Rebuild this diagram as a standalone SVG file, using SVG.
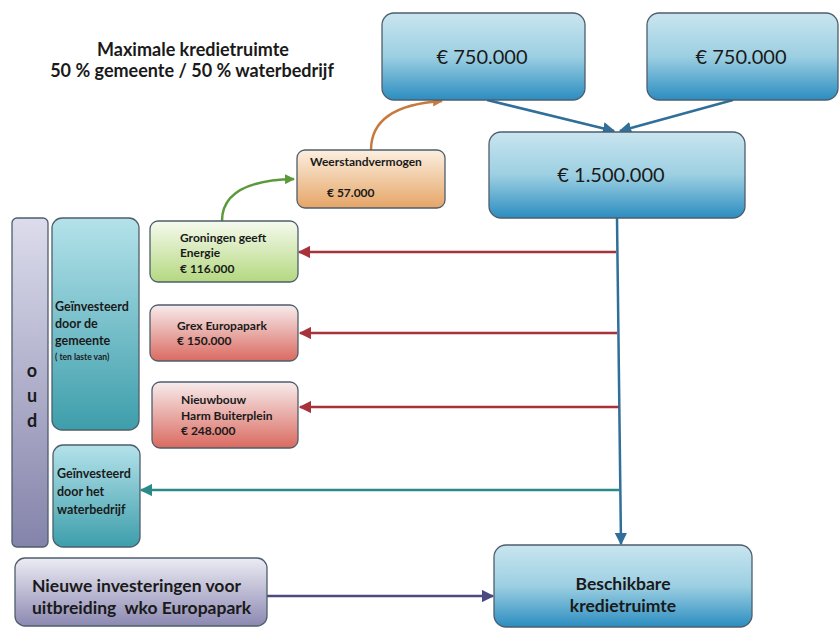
<svg xmlns="http://www.w3.org/2000/svg" width="840" height="628" viewBox="0 0 840 628">
<defs>
<linearGradient id="gBlue" x1="0" y1="0" x2="0" y2="1"><stop offset="0" stop-color="#c9e5ef"/><stop offset="0.5" stop-color="#9ccfe2"/><stop offset="1" stop-color="#2b8dc0"/></linearGradient>
<linearGradient id="gGreen" x1="0" y1="0" x2="0" y2="1"><stop offset="0" stop-color="#f6faee"/><stop offset="1" stop-color="#b4d880"/></linearGradient>
<linearGradient id="gRed" x1="0" y1="0" x2="0" y2="1"><stop offset="0" stop-color="#f7ecec"/><stop offset="1" stop-color="#da6a60"/></linearGradient>
<linearGradient id="gOrange" x1="0" y1="0" x2="0" y2="1"><stop offset="0" stop-color="#fcefe0"/><stop offset="1" stop-color="#e5a566"/></linearGradient>
<linearGradient id="gTeal" x1="0" y1="0" x2="0" y2="1"><stop offset="0" stop-color="#b4e2ea"/><stop offset="1" stop-color="#3d9eab"/></linearGradient>
<linearGradient id="gLav" x1="0" y1="0" x2="0" y2="1"><stop offset="0" stop-color="#dcdcec"/><stop offset="1" stop-color="#8483aa"/></linearGradient>
<linearGradient id="gNew" x1="0" y1="0" x2="0" y2="1"><stop offset="0" stop-color="#ececf4"/><stop offset="1" stop-color="#8c89b2"/></linearGradient>
<marker id="aBlue" viewBox="0 0 10 10" refX="9" refY="5" markerWidth="5" markerHeight="5" orient="auto"><path d="M0,0 L10,5 L0,10 z" fill="#2f6f9a"/></marker>
<marker id="aRed" viewBox="0 0 10 10" refX="9" refY="5" markerWidth="5" markerHeight="5" orient="auto"><path d="M0,0 L10,5 L0,10 z" fill="#a8323a"/></marker>
<marker id="aTeal" viewBox="0 0 10 10" refX="9" refY="5" markerWidth="5" markerHeight="5" orient="auto"><path d="M0,0 L10,5 L0,10 z" fill="#2a8a8a"/></marker>
<marker id="aGreen" viewBox="0 0 10 10" refX="9" refY="5" markerWidth="4" markerHeight="4" orient="auto"><path d="M0,0 L10,5 L0,10 z" fill="#5a9a3a"/></marker>
<marker id="aOrange" viewBox="0 0 10 10" refX="9" refY="5" markerWidth="4" markerHeight="4" orient="auto"><path d="M0,0 L10,5 L0,10 z" fill="#c87a3e"/></marker>
<marker id="aPurple" viewBox="0 0 10 10" refX="9" refY="5" markerWidth="5" markerHeight="5" orient="auto"><path d="M0,0 L10,5 L0,10 z" fill="#4a4a80"/></marker>
</defs>
<style>
text{font-family:Lato,"Open Sans","Liberation Sans",sans-serif;fill:#1a1a1a;font-weight:bold}
.box{stroke:#4e5e6c;stroke-width:1.3}
.big{font-size:20px;font-weight:normal}
.sm{font-size:12px}
.tl{font-size:12.5px}
.ln{fill:none;stroke-width:2.5}
</style>
<g id="title">
<text x="193" y="56" font-size="18" text-anchor="middle">Maximale kredietruimte</text>
<text x="192" y="77" font-size="18" text-anchor="middle">50 % gemeente / 50 % waterbedrijf</text>
</g>
<g id="connectors">
<path class="ln" d="M487,100 L614,131" stroke="#2f6f9a" stroke-width="1.5" marker-end="url(#aBlue)"/>
<path class="ln" d="M733,100 L620,131" stroke="#2f6f9a" stroke-width="1.5" marker-end="url(#aBlue)"/>
<path class="ln" d="M617,218 L621,544" stroke="#2f6f9a" stroke-width="2" marker-end="url(#aBlue)"/>
<path class="ln" d="M616,252 L299,252" stroke="#a8323a" marker-end="url(#aRed)"/>
<path class="ln" d="M617,333 L300,333" stroke="#a8323a" marker-end="url(#aRed)"/>
<path class="ln" d="M619,407 L300,407" stroke="#a8323a" marker-end="url(#aRed)"/>
<path class="ln" d="M620,490 L141,490" stroke="#2a8a8a" marker-end="url(#aTeal)"/>
<path class="ln" d="M267,596 L493,596" stroke="#4a4a80" marker-end="url(#aPurple)"/>
<path class="ln" d="M222,221 C222,195 245,180 294,179" stroke="#5a9a3a" stroke-width="3" marker-end="url(#aGreen)"/>
<path class="ln" d="M371,150 C371,120 395,104 442,101" stroke="#c87a3e" stroke-width="3" marker-end="url(#aOrange)"/>
</g>
<g id="n750a"><rect class="box" x="382" y="13" width="203" height="87" rx="12" fill="url(#gBlue)"/><text class="big" x="482" y="64" text-anchor="middle">€ 750.000</text></g>
<g id="n750b"><rect class="box" x="647" y="13" width="191" height="87" rx="12" fill="url(#gBlue)"/><text class="big" x="741" y="64" text-anchor="middle">€ 750.000</text></g>
<g id="n1500"><rect class="box" x="489" y="132" width="256" height="86" rx="12" fill="url(#gBlue)"/><text class="big" x="611" y="182" text-anchor="middle">€ 1.500.000</text></g>
<g id="weerstand"><rect class="box" x="297" y="150" width="148" height="58" rx="8" fill="url(#gOrange)"/><text class="sm" x="310" y="166">Weerstandvermogen</text><text class="sm" x="327" y="197">€ 57.000</text></g>
<g id="groningen"><rect class="box" x="150" y="221" width="148" height="61" rx="8" fill="url(#gGreen)"/><text class="sm" x="180" y="242">Groningen geeft</text><text class="sm" x="180" y="257">Energie</text><text class="sm" x="180" y="273">€ 116.000</text></g>
<g id="grex"><rect class="box" x="150" y="305" width="148" height="56" rx="8" fill="url(#gRed)"/><text class="sm" x="177" y="330">Grex Europapark</text><text class="sm" x="177" y="345">€ 150.000</text></g>
<g id="nieuwbouw"><rect class="box" x="152" y="382" width="146" height="66" rx="8" fill="url(#gRed)"/><text class="sm" x="181" y="404">Nieuwbouw</text><text class="sm" x="181" y="420">Harm Buiterplein</text><text class="sm" x="181" y="435">€ 248.000</text></g>
<g id="oud"><rect class="box" x="12" y="218" width="36" height="329" rx="5" fill="url(#gLav)"/><text x="32" y="377" font-size="18" text-anchor="middle" fill="#333">o</text><text x="32" y="402" font-size="18" text-anchor="middle" fill="#333">u</text><text x="32" y="427" font-size="18" text-anchor="middle" fill="#333">d</text></g>
<g id="gemeente"><rect class="box" x="52" y="218" width="87" height="212" rx="10" fill="url(#gTeal)"/><text class="tl" x="55" y="311">Geïnvesteerd</text><text class="tl" x="55" y="328">door de</text><text class="tl" x="55" y="345">gemeente</text><text x="55" y="360" font-size="8.5">( ten laste van)</text></g>
<g id="waterbedrijf"><rect class="box" x="53" y="445" width="87" height="102" rx="10" fill="url(#gTeal)"/><text class="tl" x="57" y="478">Geïnvesteerd</text><text class="tl" x="57" y="496">door het</text><text class="tl" x="57" y="514">waterbedrijf</text></g>
<g id="nieuwe"><rect class="box" x="15" y="558" width="252" height="68" rx="10" fill="url(#gNew)"/><text x="32" y="592" font-size="17.5" font-weight="normal">Nieuwe investeringen voor</text><text x="32" y="614" font-size="17.5" font-weight="normal" style="white-space:pre">uitbreiding  wko Europapark</text></g>
<g id="beschikbaar"><rect class="box" x="494" y="545" width="258" height="82" rx="12" fill="url(#gBlue)"/><text x="623" y="590" font-size="17.5" text-anchor="middle">Beschikbare</text><text x="623" y="612" font-size="17.5" text-anchor="middle">kredietruimte</text></g>
</svg>
